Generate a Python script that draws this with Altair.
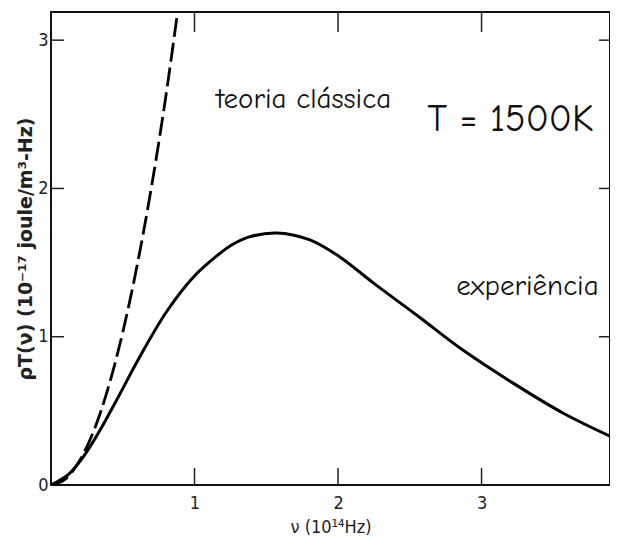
import altair as alt
import pandas as pd

exp_nu = [0.0, 0.04, 0.12, 0.225, 0.33, 0.458, 0.62, 0.806, 0.99, 1.155, 1.27, 1.387, 1.57, 1.80, 2.01, 2.25, 2.57, 2.87, 3.22, 3.57, 3.92]
exp_rho = [0.0, 0.02, 0.07, 0.19, 0.35, 0.574, 0.867, 1.17, 1.40, 1.545, 1.625, 1.675, 1.70, 1.655, 1.54, 1.36, 1.13, 0.91, 0.687, 0.484, 0.318]

# Classical theory (Rayleigh-Jeans) curve
cls_nu = [0.0, 0.1, 0.2, 0.3, 0.4, 0.5, 0.6, 0.7, 0.8, 0.9]
cls_rho = [0.0, 0.04, 0.165, 0.37, 0.66, 1.03, 1.48, 2.01, 2.62, 3.32]

x_ticks = [1, 2, 3]
y_ticks = [0, 1, 2, 3]

labels_text = ["teoria clássica", "T = 1500K", "experiência"]
labels_nu = [1.76, 3.2, 3.32]
labels_rho = [2.6, 2.46, 1.34]
labels_size = [29, 38, 29]

W, H = 559, 473
XDOM = [0, 3.895]
YDOM = [0, 3.19]

exp_df = pd.DataFrame({"nu": exp_nu, "rho": exp_rho})
cls_df = pd.DataFrame({"nu": cls_nu, "rho": cls_rho})
xt_df = pd.DataFrame({"v": x_ticks})
yt_df = pd.DataFrame({"v": [v for v in y_ticks if v > 0]})
lab_df = pd.DataFrame({"t": labels_text, "nu": labels_nu, "rho": labels_rho, "s": labels_size})

xscale = alt.Scale(domain=XDOM, nice=False, zero=False)
yscale = alt.Scale(domain=YDOM, nice=False, zero=False)

AXF = "DejaVu Sans Condensed, Liberation Sans, sans-serif"
TF = "DejaVu Sans, Liberation Sans, sans-serif"

xaxis = alt.Axis(values=x_ticks, format="d", tickSize=0, domain=False, grid=False,
                 labelFont=AXF, labelFontSize=18, labelPadding=9,
                 labelColor="#222", title="ν (10¹⁴Hz)", titleFont=AXF,
                 titleFontSize=18, titleFontWeight="normal", titleColor="#222", titlePadding=6)
yaxis = alt.Axis(values=y_ticks, format="d", tickSize=0, domain=False, grid=False,
                 labelFont=AXF, labelFontSize=18, labelPadding=3,
                 labelColor="#222", title="ρT(ν) (10⁻¹⁷ joule/m³-Hz)",
                 titleFont=TF, titleFontSize=19, titleFontWeight="bold",
                 titleColor="#222", titlePadding=2)

exp_line = alt.Chart(exp_df).mark_line(color="black", strokeWidth=3, interpolate="catmull-rom", clip=True).encode(
    x=alt.X("nu:Q", scale=xscale, axis=xaxis),
    y=alt.Y("rho:Q", scale=yscale, axis=yaxis),
)

cls_line = alt.Chart(cls_df).mark_line(color="black", strokeWidth=2.8, strokeDash=[19, 6],
                                        interpolate="monotone", clip=True).encode(
    x=alt.X("nu:Q", scale=xscale),
    y=alt.Y("rho:Q", scale=yscale),
)

tick_col = "#222"
bottom_ticks = alt.Chart(xt_df).mark_rule(color=tick_col, strokeWidth=1.5).encode(
    x=alt.X("v:Q", scale=xscale), y=alt.value(H), y2=alt.value(H - 17))
top_ticks = alt.Chart(xt_df).mark_rule(color=tick_col, strokeWidth=1.5).encode(
    x=alt.X("v:Q", scale=xscale), y=alt.value(0), y2=alt.value(20))
left_ticks = alt.Chart(yt_df).mark_rule(color=tick_col, strokeWidth=1.5).encode(
    y=alt.Y("v:Q", scale=yscale), x=alt.value(0), x2=alt.value(13))
right_ticks = alt.Chart(yt_df).mark_rule(color=tick_col, strokeWidth=1.5).encode(
    y=alt.Y("v:Q", scale=yscale), x=alt.value(W - 11), x2=alt.value(W))

labels = alt.Chart(lab_df).mark_text(font="Comic Sans MS, Comic Neue, Lato", color="#111",
                                     align="center", baseline="middle").encode(
    x=alt.X("nu:Q", scale=xscale),
    y=alt.Y("rho:Q", scale=yscale),
    text="t:N",
    size=alt.Size("s:Q", scale=None, legend=None),
)

chart = alt.layer(exp_line, cls_line, bottom_ticks, top_ticks, left_ticks, right_ticks, labels).properties(
    width=W, height=H,
    autosize=alt.AutoSizeParams(type="none"),
    padding={"left": 43, "top": 4, "right": 0, "bottom": 52},
    background="white",
).configure_view(stroke="#111", strokeWidth=2)

chart.save("out.html", embed_options={"renderer": "svg", "actions": False})
